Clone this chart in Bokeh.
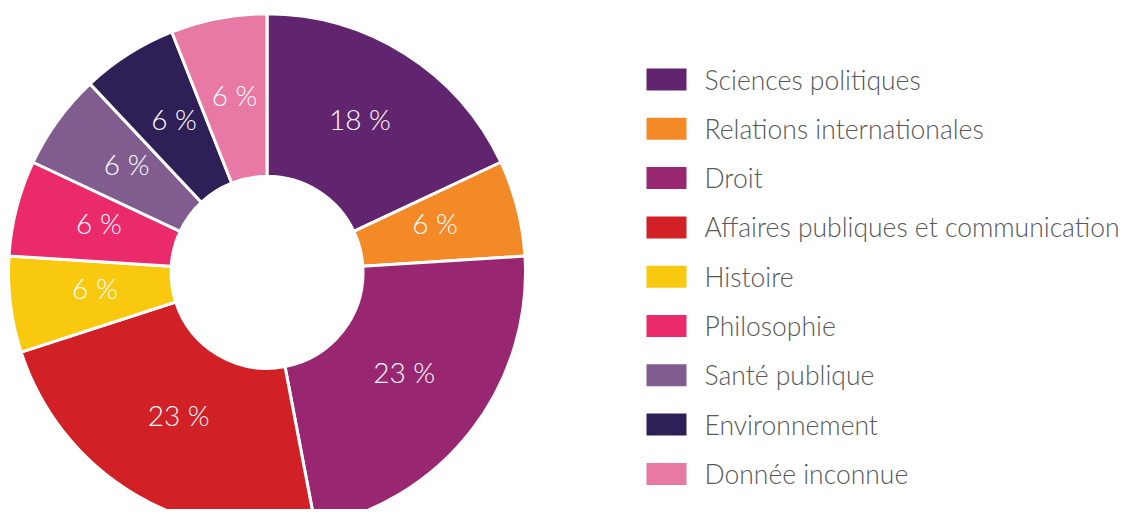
import math
from bokeh.plotting import figure
from bokeh.models import Range1d, ColumnDataSource
from bokeh.core.properties import value
from bokeh.embed import file_html
from bokeh.resources import INLINE

categories = [
    "Sciences politiques",
    "Relations internationales",
    "Droit",
    "Affaires publiques et communication",
    "Histoire",
    "Philosophie",
    "Santé publique",
    "Environnement",
    "Donnée inconnue",
]
percents = [18, 6, 23, 23, 6, 6, 6, 6, 6]
colors = ["#612570", "#f48a27", "#982670", "#d12026", "#f9c90f",
          "#eb2a6c", "#805d8e", "#2e1f57", "#e878a4"]

FONT = "Lato Light"
W, H = 1125, 509
p = figure(width=W, height=H, output_backend="svg", toolbar_location=None,
           x_range=Range1d(0, W), y_range=Range1d(-H, 0),
           min_border=0, outline_line_color=None)
p.axis.visible = False
p.grid.visible = False
p.background_fill_color = "white"
p.border_fill_color = "white"

cx, cy = 266.5, -271.8
r_out, r_in = 258.5, 96
total = sum(percents)
starts, ends, lx, ly, labels = [], [], [], [], []
cum = 0
for v in percents:
    a0 = cum / total * 2 * math.pi
    cum += v
    a1 = cum / total * 2 * math.pi
    starts.append(math.pi / 2 - a1)
    ends.append(math.pi / 2 - a0)
    mid = (a0 + a1) / 2
    rl = 173.5
    lx.append(cx + rl * math.sin(mid))
    ly.append(cy + 6.5 + rl * math.cos(mid))
    labels.append(f"{v} %")

src = ColumnDataSource(dict(start=starts, end=ends, color=colors, lx=lx, ly=ly, label=labels))
p.annular_wedge(x=cx, y=cy, inner_radius=r_in, outer_radius=r_out,
                start_angle="start", end_angle="end", direction="anticlock",
                fill_color="color", line_color="white", line_width=3, source=src,
                inner_radius_units="screen", outer_radius_units="screen")
p.text(x="lx", y="ly", text="label", source=src, text_color="white",
       text_font=value(FONT), text_font_size="28px", text_align="center",
       text_baseline="middle")

# legend
n = len(categories)
ys = [-(79 + i * 49.3) for i in range(n)]
p.rect(x=[666] * n, y=ys, width=40, height=22, width_units="screen", height_units="screen",
       fill_color=colors, line_color=None)
p.text(x=[704] * n, y=ys, text=categories, text_color="#585858",
       text_font=value(FONT), text_font_size="26.5px", text_align="left",
       text_baseline="middle")

open("out.html", "w").write(file_html(p, INLINE))
